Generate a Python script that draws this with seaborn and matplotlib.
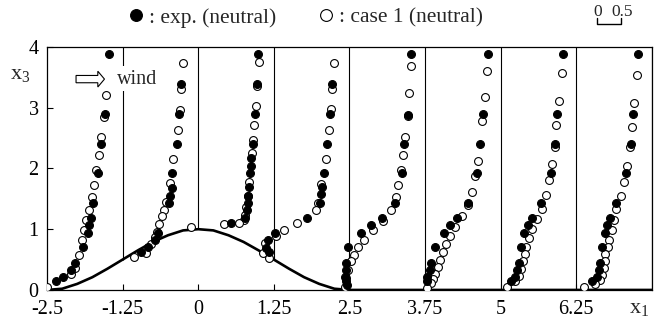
import numpy as np
import pandas as pd
import matplotlib
matplotlib.use('Agg')
import matplotlib.pyplot as plt
from matplotlib.lines import Line2D
from matplotlib.patches import Rectangle, FancyArrow
import seaborn as sns

# measurement stations (x1) and profile scale (x1 units per velocity unit)
stations = [-2.5, -1.25, 0, 1.25, 2.5, 3.75, 5, 6.25]
SCALE = 0.8
scale_bar = [0, 0.5]

# hill surface
hill_x = [-2.5, -2.25, -2.0, -1.75, -1.5, -1.25, -1.0, -0.75, -0.5, -0.25, 0.0,
          0.25, 0.5, 0.75, 1.0, 1.25, 1.5, 1.75, 2.0, 2.25, 2.5, 7.5]
hill_z = [0.00, 0.02, 0.10, 0.21, 0.35, 0.50, 0.65, 0.79, 0.90, 0.98, 1.00,
          0.98, 0.90, 0.79, 0.65, 0.50, 0.35, 0.21, 0.10, 0.02, 0.00, 0.00]

# x1 = -2.5
exp_z_1 = [3.88, 2.90, 2.40, 1.92, 1.43, 1.18, 1.07, 0.94, 0.70, 0.45, 0.33, 0.21, 0.14]
exp_u_1 = [1.28, 1.19, 1.12, 1.05, 0.96, 0.90, 0.86, 0.84, 0.74, 0.58, 0.49, 0.34, 0.18]
cas_z_1 = [3.21, 2.85, 2.52, 2.22, 1.98, 1.73, 1.53, 1.32, 1.15, 0.99, 0.83, 0.58, 0.36, 0.26, 0.05]
cas_u_1 = [1.21, 1.17, 1.12, 1.08, 1.02, 0.98, 0.92, 0.87, 0.81, 0.77, 0.73, 0.66, 0.57, 0.50, 0.00]
# x1 = -1.25
exp_z_2 = [3.39, 2.90, 2.40, 1.93, 1.67, 1.55, 1.43, 0.94, 0.82, 0.70, 0.62]
exp_u_2 = [1.21, 1.17, 1.12, 1.02, 1.01, 0.97, 0.95, 0.74, 0.66, 0.53, 0.37]
cas_z_2 = [3.73, 3.30, 2.96, 2.64, 2.16, 1.76, 1.45, 1.32, 1.22, 1.09, 0.96, 0.87, 0.76, 0.60, 0.55]
cas_u_2 = [1.25, 1.21, 1.18, 1.14, 1.05, 0.98, 0.89, 0.85, 0.81, 0.76, 0.71, 0.66, 0.58, 0.49, 0.23]
# x1 = 0
exp_z_3 = [3.88, 3.39, 2.90, 2.40, 2.17, 2.04, 1.92, 1.70, 1.55, 1.43, 1.31, 1.18, 1.11]
exp_u_3 = [1.23, 1.21, 1.18, 1.13, 1.09, 1.08, 1.07, 1.05, 1.03, 1.02, 1.00, 0.975, 0.67]
cas_z_3 = [3.75, 3.35, 3.02, 2.72, 2.47, 2.25, 1.77, 1.55, 1.37, 1.23, 1.15, 1.11, 1.08, 1.03]
cas_u_3 = [1.26, 1.22, 1.19, 1.16, 1.135, 1.11, 1.04, 1.02, 0.99, 0.97, 0.95, 0.84, 0.53, -0.14]
# x1 = 1.25
exp_z_4 = [3.39, 2.90, 2.40, 1.92, 1.70, 1.58, 1.43, 1.19, 0.93, 0.82, 0.69, 0.63]
exp_u_4 = [1.20, 1.17, 1.10, 1.04, 1.00, 0.98, 0.96, 0.69, 0.03, -0.12, -0.16, -0.09]
cas_z_4 = [3.73, 3.30, 2.97, 2.64, 2.16, 1.74, 1.43, 1.32, 1.10, 0.99, 0.89, 0.77, 0.61, 0.53]
cas_u_4 = [1.24, 1.21, 1.18, 1.14, 1.07, 0.97, 0.92, 0.87, 0.47, 0.22, 0.05, -0.19, -0.23, -0.10]
# x1 = 2.5
exp_z_5 = [3.88, 2.88, 2.40, 1.92, 1.43, 1.18, 1.07, 0.94, 0.70, 0.45, 0.33, 0.22, 0.14, 0.08]
exp_u_5 = [1.28, 1.21, 1.13, 1.08, 0.95, 0.67, 0.44, 0.24, -0.03, -0.08, -0.08, -0.10, -0.08, -0.06]
cas_z_5 = [3.68, 3.24, 2.86, 2.52, 2.22, 1.98, 1.73, 1.53, 1.32, 1.14, 0.98, 0.83, 0.70, 0.58,
           0.47, 0.33, 0.19, 0.05]
cas_u_5 = [1.28, 1.24, 1.21, 1.15, 1.10, 1.06, 1.01, 0.96, 0.86, 0.70, 0.49, 0.30, 0.175, 0.09,
           0.04, -0.03, -0.08, -0.10]
# x1 = 3.75
exp_z_6 = [3.88, 2.90, 2.41, 1.92, 1.43, 1.18, 1.07, 0.94, 0.70, 0.45, 0.33, 0.21, 0.14]
exp_u_6 = [1.30, 1.19, 1.14, 1.07, 0.88, 0.65, 0.52, 0.40, 0.20, 0.13, 0.10, 0.05, 0.03]
cas_z_6 = [3.61, 3.17, 2.78, 2.13, 1.87, 1.61, 1.39, 1.21, 1.03, 0.88, 0.75, 0.62, 0.49, 0.38,
           0.27, 0.18, 0.11, 0.04]
cas_u_6 = [1.28, 1.23, 1.18, 1.09, 1.03, 0.97, 0.88, 0.76, 0.625, 0.51, 0.44, 0.375, 0.31, 0.26,
           0.21, 0.17, 0.12, 0.05]
# x1 = 5
exp_z_7 = [3.88, 2.90, 2.40, 1.92, 1.43, 1.18, 1.07, 0.94, 0.70, 0.45, 0.33, 0.21, 0.14]
exp_u_7 = [1.28, 1.17, 1.12, 1.03, 0.84, 0.65, 0.57, 0.49, 0.42, 0.375, 0.34, 0.29, 0.22]
cas_z_7 = [3.57, 3.11, 2.72, 2.36, 2.07, 1.81, 1.56, 1.34, 1.16, 1.00, 0.85, 0.71, 0.59, 0.47,
           0.34, 0.23, 0.14, 0.05]
cas_u_7 = [1.26, 1.21, 1.15, 1.12, 1.07, 1.00, 0.94, 0.85, 0.76, 0.65, 0.58, 0.53, 0.50, 0.46,
           0.42, 0.375, 0.30, 0.14]
# x1 = 6.25
exp_z_8 = [3.88, 2.90, 2.40, 1.92, 1.43, 1.18, 1.07, 0.94, 0.70, 0.45, 0.33, 0.21, 0.14]
exp_u_8 = [1.27, 1.18, 1.125, 1.03, 0.82, 0.70, 0.64, 0.60, 0.54, 0.50, 0.47, 0.42, 0.33]
cas_z_8 = [3.54, 3.08, 2.69, 2.35, 2.04, 1.78, 1.54, 1.34, 1.15, 0.98, 0.83, 0.71, 0.59, 0.47,
           0.36, 0.25, 0.16, 0.10, 0.05]
cas_u_8 = [1.25, 1.20, 1.15, 1.10, 1.04, 0.99, 0.92, 0.83, 0.78, 0.73, 0.675, 0.65, 0.60, 0.59,
           0.57, 0.54, 0.49, 0.38, 0.15]

exp_z = [exp_z_1, exp_z_2, exp_z_3, exp_z_4, exp_z_5, exp_z_6, exp_z_7, exp_z_8]
exp_u = [exp_u_1, exp_u_2, exp_u_3, exp_u_4, exp_u_5, exp_u_6, exp_u_7, exp_u_8]
cas_z = [cas_z_1, cas_z_2, cas_z_3, cas_z_4, cas_z_5, cas_z_6, cas_z_7, cas_z_8]
cas_u = [cas_u_1, cas_u_2, cas_u_3, cas_u_4, cas_u_5, cas_u_6, cas_u_7, cas_u_8]

rows = []
for i, st in enumerate(stations):
    for z, u in zip(exp_z[i], exp_u[i]):
        rows.append((st, z, u, 'exp'))
    for z, u in zip(cas_z[i], cas_u[i]):
        rows.append((st, z, u, 'case1'))
df = pd.DataFrame(rows, columns=['station', 'z', 'u', 'series'])
df['x'] = df['station'] + df['u'] * SCALE

sns.set_style('ticks')
plt.rcParams['font.family'] = ['Liberation Serif', 'DejaVu Serif']
plt.rcParams['mathtext.default'] = 'regular'

fig = plt.figure(figsize=(6.64, 3.28), dpi=100)
ax = fig.add_axes([0.0708, 0.116, 0.911, 0.741])

# station lines
ground = np.interp(stations, hill_x, hill_z)
ax.vlines(stations[1:], ground[1:], 4, color='k', lw=0.8, zorder=1)
ax.vlines(7.5, 0, 4, color='k', lw=0.8, zorder=1)

sns.lineplot(x=hill_x, y=hill_z, ax=ax, color='k', lw=1.9, sort=False, zorder=2)

sns.scatterplot(data=df[df.series == 'case1'], x='x', y='z', ax=ax, marker='o',
                color='white', edgecolor='k', linewidth=0.8, s=32, zorder=3)
sns.scatterplot(data=df[df.series == 'exp'], x='x', y='z', ax=ax, marker='o',
                color='k', edgecolor='k', linewidth=0.8, s=32, zorder=4)

# wind label
ax.add_patch(Rectangle((-2.12, 3.27), 1.55, 0.42, facecolor='white', edgecolor='none', zorder=5))
ax.add_patch(FancyArrow(-2.02, 3.47, 0.36, 0, width=0.12, head_width=0.26, head_length=0.11,
                        length_includes_head=False, facecolor='white', edgecolor='k', lw=0.8,
                        zorder=6))
ax.text(-1.34, 3.47, 'wind', fontsize=14.5, va='center', ha='left', zorder=6)

# scale bar
bx0, by = 6.59, 4.38
bx = [bx0 + v * SCALE for v in scale_bar]
ax.plot([bx[0], bx[0], bx[1], bx[1]], [by + 0.1, by, by, by + 0.1], color='k', lw=1.0,
        clip_on=False)
ax.text(bx[0] + 0.02, 4.58, '0', fontsize=12.5, ha='center', va='center')
ax.text(bx[1] + 0.02, 4.58, '0.5', fontsize=12.5, ha='center', va='center')

ax.set_xlim(-2.5, 7.5)
ax.set_ylim(0, 4)
ax.set_xticks(stations)
ax.set_xticklabels(['-2.5', '-1.25', '0', '1.25', '2.5', '3.75', '5', '6.25'])
ax.set_yticks([0, 1, 2, 3, 4])
ax.tick_params(direction='in', length=4, width=0.8, labelsize=14.5, colors='k')
ax.tick_params(axis='x', pad=7)
ax.tick_params(axis='y', pad=6)
for sp in ax.spines.values():
    sp.set_visible(True)
    sp.set_linewidth(0.9)
    sp.set_color('k')
ax.set_xlabel('')
ax.set_ylabel('')

fig.text(0.031, 0.772, '$x_3$', fontsize=16, ha='center', va='center')
fig.text(0.963, 0.058, '$x_1$', fontsize=16, ha='center', va='center')

handles = [Line2D([], [], ls='none', marker='o', ms=8.5, mfc='k', mec='k', mew=0.8),
           Line2D([], [], ls='none', marker='o', ms=8.5, mfc='white', mec='k', mew=0.8)]
ax.legend(handles, [': exp. (neutral)', ': case 1 (neutral)'], ncol=2, loc='center',
          bbox_to_anchor=(0.425, 1.12), frameon=False, fontsize=15.5, handletextpad=0.1,
          columnspacing=1.8, handlelength=1.0)

fig.savefig('out.png', dpi=100)
